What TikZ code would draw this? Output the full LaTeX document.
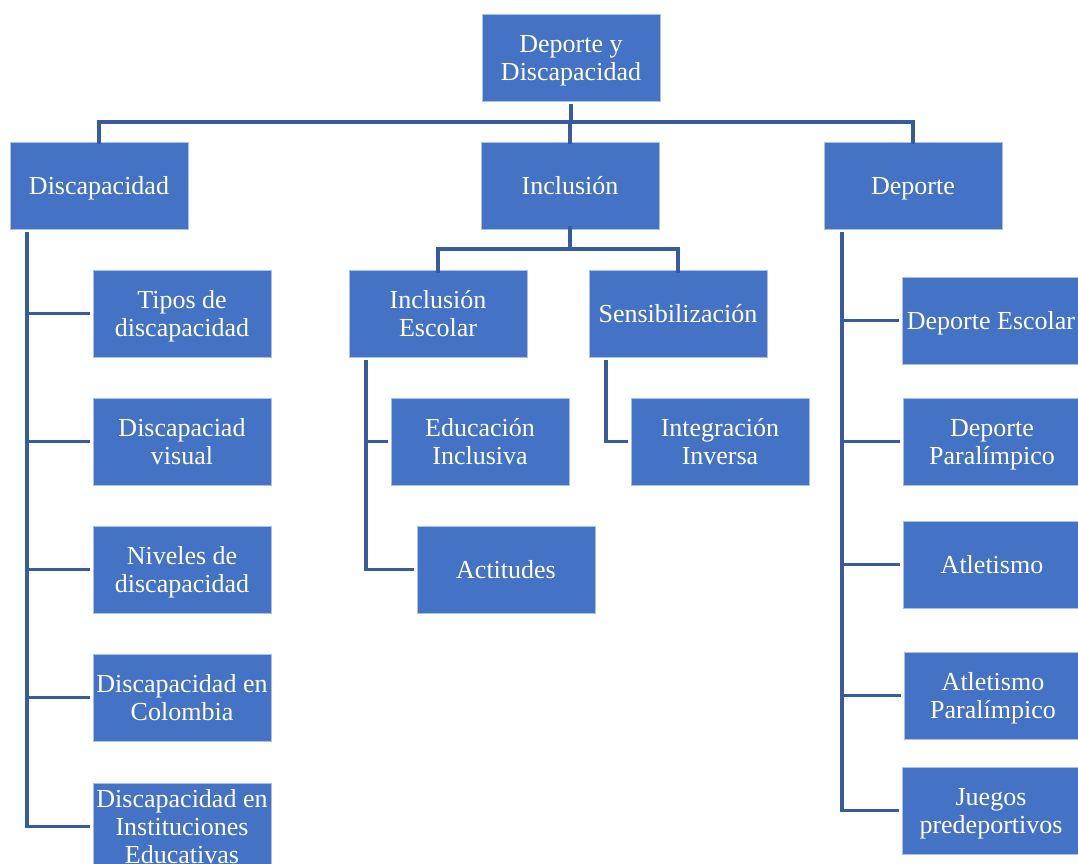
\documentclass[tikz,border=0pt]{standalone}
\usepackage{fontspec}
\setmainfont{Liberation Serif}
\definecolor{boxfill}{RGB}{68,114,196}
\definecolor{boxedge}{RGB}{170,192,232}
\definecolor{linecol}{RGB}{56,90,160}
\begin{document}
\begin{tikzpicture}[x=1pt,y=-1pt,
  box/.style={rectangle, fill=boxfill, draw=boxedge, line width=0.8pt,
    minimum width=178pt, minimum height=87pt, inner sep=0pt,
    text=white, align=center, text depth=0pt,
    font=\fontsize{26}{28}\selectfont},
  conn/.style={draw=linecol, line width=3.1pt}]
\useasboundingbox[fill=white] (0,0) rectangle (1078,864);
% level 0
\node[box] (root) at (571,57.5) {Deporte y\\Discapacidad};
% level 1
\node[box] (disc) at (99,185.5) {Discapacidad};
\node[box] (inc) at (570,185.5) {Inclusión};
\node[box] (dep) at (913,185.5) {Deporte};
% discapacidad children
\node[box] (d1) at (182,313.5) {Tipos de\\discapacidad};
\node[box] (d2) at (182,441.5) {Discapaciad\\visual};
\node[box] (d3) at (182,569.5) {Niveles de\\discapacidad};
\node[box] (d4) at (182,697.5) {Discapacidad en\\Colombia};
\node[box] (d5) at (182,826.5) {Discapacidad en\\Instituciones\\Educativas};
% inclusion children
\node[box] (i1) at (438,313.5) {Inclusión\\Escolar};
\node[box] (i2) at (678,313.5) {Sensibilización};
\node[box] (i11) at (480,441.5) {Educación\\Inclusiva};
\node[box] (i12) at (506,569.5) {Actitudes};
\node[box] (i21) at (720,441.5) {Integración\\Inversa};
% deporte children
\node[box] (p1) at (991,320.5) {Deporte Escolar};
\node[box] (p2) at (992,441.5) {Deporte\\Paralímpico};
\node[box] (p3) at (992,564.5) {Atletismo};
\node[box] (p4) at (993,695.5) {Atletismo\\Paralímpico};
\node[box] (p5) at (991,810.5) {Juegos\\predeportivos};
% connector coordinates
\coordinate (bus) at (571,122);
\coordinate (ibus) at (570,249);
\coordinate (dl) at (27,232);
\coordinate (il) at (366,360);
\coordinate (sl) at (606,360);
\coordinate (pl) at (842,232);
% level 0 -> 1
\draw[conn] ([yshift=-3pt]root.south) -- (bus);
\draw[conn] ([yshift=-2pt]disc.north) |- (bus);
\draw[conn] ([yshift=-2pt]inc.north) |- (bus);
\draw[conn] ([yshift=-2pt]dep.north) |- (bus);
% discapacidad
\foreach \n in {d1,d2,d3,d4,d5}{\draw[conn] (dl) |- ([xshift=-3pt]\n.west);}
% inclusion
\draw[conn] ([yshift=3pt]inc.south) -- (ibus);
\draw[conn] ([yshift=-3pt]i1.north) |- (ibus);
\draw[conn] ([yshift=-3pt]i2.north) |- (ibus);
\draw[conn] (il) |- ([xshift=-3pt]i11.west);
\draw[conn] (il) |- ([xshift=-3pt]i12.west);
\draw[conn] (sl) |- ([xshift=-3pt]i21.west);
% deporte
\foreach \n in {p1,p2,p3,p4,p5}{\draw[conn] (pl) |- ([xshift=-3pt]\n.west);}
\end{tikzpicture}
\end{document}
